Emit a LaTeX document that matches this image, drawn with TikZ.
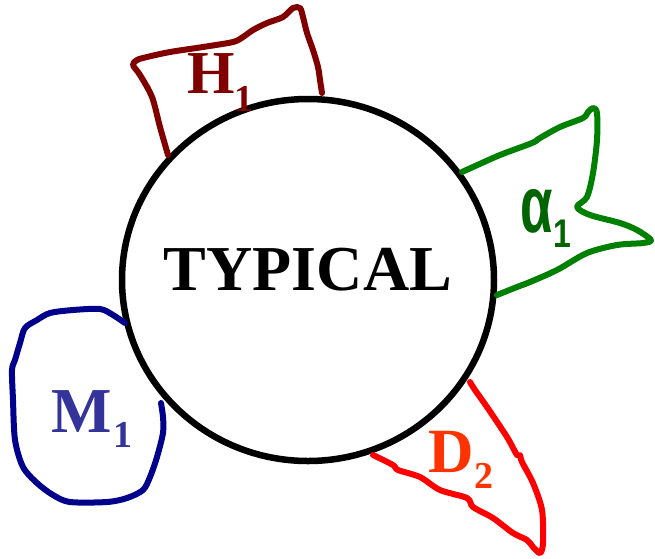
\documentclass[tikz,border=0pt]{standalone}
\usepackage{fontspec}
\setmainfont{Liberation Serif}
\newfontfamily\greekfont{Liberation Sans}
\usetikzlibrary{shapes.geometric}
\definecolor{hred}{RGB}{128,0,0}
\definecolor{agreen}{RGB}{0,128,0}
\definecolor{agreentext}{RGB}{0,100,0}
\definecolor{mblue}{RGB}{0,0,140}
\definecolor{mbluetext}{RGB}{51,51,153}
\definecolor{dred}{RGB}{255,0,0}
\definecolor{dredtext}{RGB}{255,51,0}
\tikzset{
  blob/.style={line width=6pt, line cap=round, line join=round},
  lbl/.style={inner sep=0pt, anchor=base west, font=\bfseries},
}
\newcommand{\fsz}[1]{\fontsize{#1}{#1}\selectfont}
\begin{document}
\begin{tikzpicture}[x=1pt,y=-1pt]
\useasboundingbox (0,0) rectangle (655,558);
% central region
\node (typical) [draw, line width=6.5pt, ellipse, minimum width=372pt, minimum height=362pt, inner sep=0pt] at (308,280) {};
\node (typtext) [inner sep=0pt, font=\bfseries\fsz{64}] at (308,270) {TYPICAL};

% H1 region (top)
\draw[blob, hred] plot[smooth, tension=0.5] coordinates {
  (168,155) (160,127) (152,97) (140,75) (133,65) (137,60) (147,57) (170,52)
  (203,47) (233,42) (243,37) (253,30) (267,23) (283,17) (293,8) (300,8)
  (303,17) (307,33) (313,50) (318,67) (320,80) (322,93)};
\node (h) [lbl, text=hred, font=\bfseries\fsz{61}] at (187,93) {H};
\node (h1) [lbl, text=hred, font=\bfseries\fsz{38}] at (234,111) {1};

% alpha1 region (right)
\draw[blob, agreen] plot[smooth, tension=0.5] coordinates {
  (462,172) (473,167) (500,155) (532,143) (540,138) (560,127) (583,118)
  (588,112) (593,108) (597,113) (597,140) (593,173) (587,197) (577,207)
  (590,215) (620,223) (637,230) (651,240) (643,243) (617,245) (587,253)
  (557,270) (530,282) (517,287) (497,295)};
\node (a) [lbl, text=agreentext, anchor=base] at (537,232) {\scalebox{0.66}[1]{\greekfont\bfseries\fsz{80}α}};
\node (a1) [lbl, text=agreentext, anchor=base] at (562,247) {\scalebox{0.8}[1]{\greekfont\bfseries\fsz{40}1}};

% M1 region (left)
\draw[blob, mblue] plot[smooth, tension=0.5] coordinates {
  (125,323) (113,315) (100,309) (73,310) (50,313) (37,320) (25,328) (20,343)
  (15,360) (12,370) (13,400) (15,440) (23,467) (37,483) (53,495) (70,502)
  (107,502) (127,498) (143,490) (150,477) (157,457) (163,433) (163,417) (161,403)};
\node (m) [lbl, text=mbluetext, font=\bfseries\fsz{64}] at (51,432) {M};
\node (m1) [lbl, text=mbluetext, font=\bfseries\fsz{38}] at (113,447) {1};

% D2 region (bottom right)
\draw[blob, dred] plot[smooth, tension=0.5] coordinates {
  (373,455) (393,465) (398,470) (420,477) (440,490) (467,498) (473,507)
  (493,518) (513,533) (527,540) (533,547) (540,553) (543,543) (542,510)
  (533,483) (522,462) (520,455) (517,455) (507,437) (487,407) (475,390) (470,382)};
\node (d) [lbl, text=dredtext, font=\bfseries\fsz{63}] at (428,472) {D};
\node (d2) [lbl, text=dredtext, font=\bfseries\fsz{38}] at (474,488) {2};
\end{tikzpicture}
\end{document}
